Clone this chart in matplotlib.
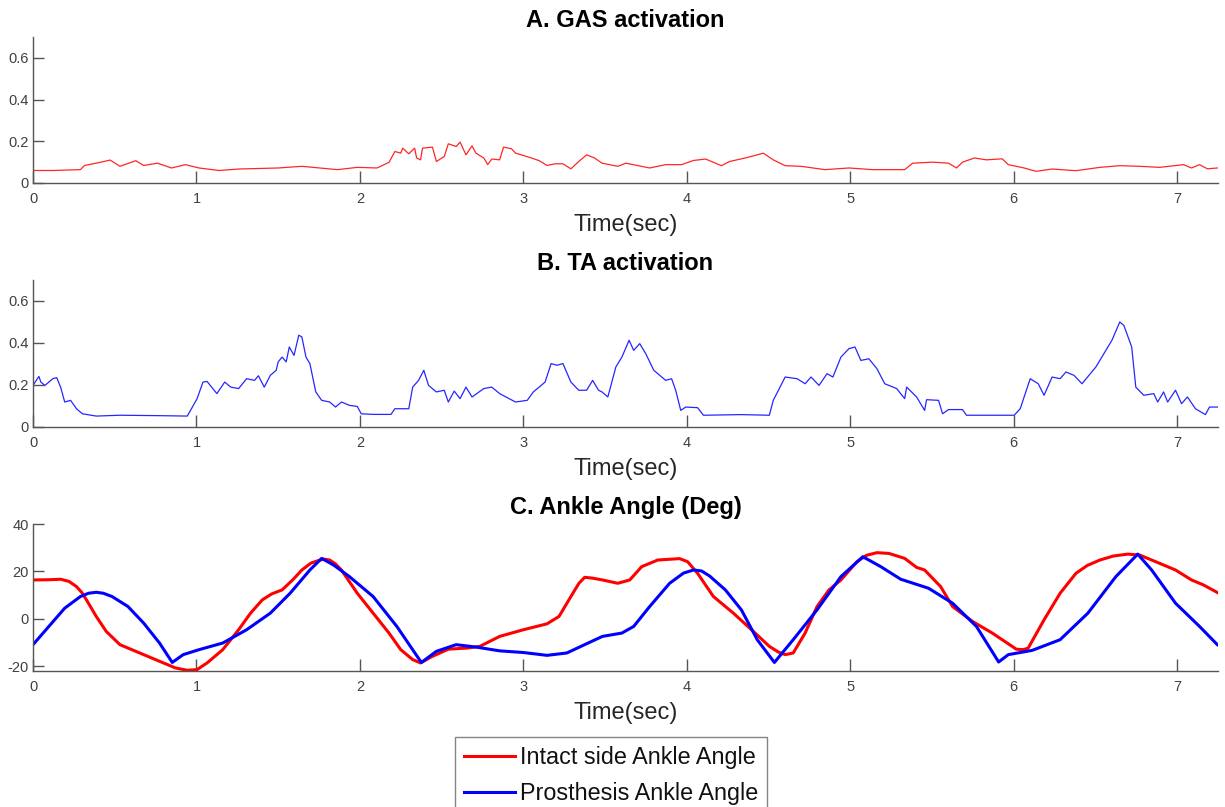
import matplotlib
matplotlib.use("Agg")
import matplotlib.pyplot as plt

plt.rcParams['font.family'] = ['Liberation Sans', 'DejaVu Sans']

# ---------------- data ----------------
gas_t = [0.000, 0.121, 0.290, 0.315, 0.387, 0.472, 0.532, 0.629, 0.677, 0.762, 0.847, 0.932,
         1.016, 1.137, 1.258, 1.500, 1.645, 1.863, 1.984, 2.105, 2.178, 2.214, 2.250, 2.262,
         2.299, 2.335, 2.347, 2.371, 2.383, 2.444, 2.468, 2.516, 2.541, 2.589, 2.613, 2.649,
         2.686, 2.710, 2.758, 2.782, 2.807, 2.855, 2.879, 2.928, 2.952, 3.000, 3.049, 3.097,
         3.145, 3.194, 3.242, 3.291, 3.339, 3.387, 3.436,
         3.481, 3.578, 3.627, 3.773, 3.871, 3.968, 4.041, 4.115, 4.212, 4.261, 4.358, 4.407,
         4.468, 4.529, 4.602, 4.699, 4.846, 4.992, 5.138, 5.333, 5.382, 5.504, 5.601, 5.650,
         5.687, 5.760, 5.833, 5.930, 5.967, 6.064, 6.137, 6.235, 6.381, 6.527, 6.649, 6.771,
         6.893, 7.039, 7.088, 7.137, 7.185, 7.246]
gas_v = [0.060, 0.060, 0.064, 0.084, 0.095, 0.110, 0.080, 0.107, 0.084, 0.095, 0.072, 0.088,
         0.072, 0.060, 0.067, 0.072, 0.080, 0.064, 0.075, 0.072, 0.099, 0.151, 0.143, 0.167,
         0.140, 0.167, 0.120, 0.111, 0.167, 0.172, 0.103, 0.127, 0.188, 0.175, 0.196, 0.135,
         0.178, 0.143, 0.120, 0.088, 0.115, 0.111, 0.172, 0.164, 0.143, 0.132, 0.120, 0.107,
         0.084, 0.092, 0.092, 0.068, 0.103, 0.135, 0.120,
         0.095, 0.080, 0.095, 0.072, 0.088, 0.088, 0.108, 0.115, 0.083, 0.103, 0.120, 0.130,
         0.143, 0.111, 0.083, 0.080, 0.064, 0.072, 0.064, 0.064, 0.095, 0.100, 0.095, 0.072,
         0.100, 0.120, 0.111, 0.116, 0.088, 0.072, 0.056, 0.067, 0.059, 0.075, 0.083, 0.080,
         0.075, 0.088, 0.072, 0.088, 0.068, 0.072]

ta_t = [0.000, 0.036, 0.048, 0.073, 0.121, 0.145, 0.169, 0.194, 0.230, 0.266, 0.302, 0.387,
        0.532, 0.774, 0.944, 1.004, 1.040, 1.065, 1.125, 1.173, 1.210, 1.258, 1.307, 1.355,
        1.379, 1.415, 1.452, 1.488, 1.500, 1.524, 1.549, 1.568, 1.597, 1.626, 1.645, 1.670,
        1.694, 1.730, 1.766, 1.815, 1.851, 1.887, 1.936, 1.984, 2.008, 2.081, 2.190, 2.214,
        2.299, 2.323, 2.359, 2.391, 2.420, 2.468, 2.516, 2.541, 2.577, 2.613, 2.649, 2.686,
        2.758, 2.807, 2.855, 2.952, 3.024, 3.061, 3.097, 3.133, 3.170, 3.206, 3.242, 3.291,
        3.339, 3.387, 3.424, 3.460,
        3.481, 3.517, 3.566, 3.603, 3.647, 3.675, 3.712, 3.749, 3.798, 3.834, 3.871, 3.907,
        3.932, 3.963, 3.993, 4.066, 4.102, 4.334, 4.505, 4.529, 4.602, 4.675, 4.724, 4.760,
        4.809, 4.858, 4.894, 4.943, 4.992, 5.029, 5.065, 5.114, 5.163, 5.211, 5.284, 5.333,
        5.345, 5.406, 5.455, 5.467, 5.540, 5.565, 5.601, 5.687, 5.711, 6.003, 6.040, 6.101,
        6.150, 6.186, 6.235, 6.284, 6.320, 6.369, 6.418, 6.503, 6.552, 6.601, 6.649, 6.674,
        6.722, 6.747, 6.796, 6.857, 6.881, 6.917, 6.942, 6.990, 7.027, 7.063, 7.112, 7.173,
        7.198, 7.246]
ta_v = [0.198, 0.241, 0.214, 0.198, 0.230, 0.235, 0.190, 0.119, 0.127, 0.087, 0.063, 0.052,
        0.056, 0.054, 0.052, 0.135, 0.214, 0.217, 0.159, 0.214, 0.190, 0.183, 0.230, 0.222,
        0.244, 0.190, 0.246, 0.270, 0.310, 0.333, 0.310, 0.381, 0.341, 0.437, 0.429, 0.333,
        0.302, 0.167, 0.127, 0.119, 0.095, 0.119, 0.103, 0.098, 0.063, 0.060, 0.060, 0.087,
        0.087, 0.190, 0.222, 0.270, 0.198, 0.167, 0.175, 0.119, 0.171, 0.135, 0.190, 0.143,
        0.183, 0.190, 0.159, 0.119, 0.127, 0.167, 0.190, 0.214, 0.302, 0.294, 0.302, 0.214,
        0.175, 0.175, 0.222, 0.175,
        0.167, 0.143, 0.286, 0.333, 0.413, 0.365, 0.397, 0.349, 0.270, 0.246, 0.222, 0.230,
        0.175, 0.079, 0.095, 0.092, 0.056, 0.059, 0.056, 0.127, 0.238, 0.230, 0.206, 0.238,
        0.198, 0.254, 0.238, 0.333, 0.373, 0.381, 0.317, 0.325, 0.278, 0.206, 0.183, 0.135,
        0.190, 0.143, 0.079, 0.130, 0.127, 0.063, 0.083, 0.083, 0.056, 0.056, 0.087, 0.230,
        0.206, 0.151, 0.238, 0.230, 0.262, 0.246, 0.206, 0.286, 0.349, 0.413, 0.500, 0.484,
        0.381, 0.190, 0.151, 0.159, 0.119, 0.167, 0.119, 0.175, 0.111, 0.143, 0.087, 0.059,
        0.095, 0.095]

intact_t = [0.000, 0.100, 0.169, 0.220, 0.266, 0.300, 0.327, 0.387, 0.448, 0.532, 0.653, 0.774,
            0.871, 0.944, 1.004, 1.065, 1.161, 1.258, 1.331, 1.403, 1.460, 1.524, 1.590, 1.645,
            1.700, 1.742, 1.780, 1.815, 1.850, 1.887, 1.984, 2.081, 2.178, 2.250, 2.323, 2.371,
            2.444, 2.541, 2.662, 2.734, 2.855, 3.000, 3.145, 3.218, 3.291, 3.340, 3.375, 3.420,
            3.484, 3.578, 3.651, 3.724, 3.822, 3.956, 4.005, 4.066, 4.163, 4.285, 4.407, 4.505,
            4.560, 4.602, 4.651, 4.724, 4.797, 4.870, 4.943, 5.041, 5.100, 5.163, 5.236, 5.333,
            5.406, 5.455, 5.553, 5.626, 5.748, 5.869, 6.016, 6.060, 6.089, 6.186, 6.284, 6.381,
            6.450, 6.527, 6.610, 6.698, 6.771, 6.893, 6.990, 7.088, 7.161, 7.246]
intact_v = [16.4, 16.5, 16.7, 15.8, 13.6, 11.0, 8.0, 1.0, -5.3, -10.9, -14.4, -17.9,
            -20.7, -21.7, -21.4, -18.6, -13.0, -4.6, 2.4, 8.0, 10.5, 12.2, 16.5, 20.6,
            23.5, 24.5, 25.2, 24.8, 23.2, 20.6, 10.8, 2.4, -6.0, -13.0, -17.2, -18.6,
            -15.8, -12.8, -12.3, -11.6, -7.4, -4.6, -2.1, 1.0, 9.4, 15.0, 17.5, 17.2,
            16.4, 15.0, 16.4, 22.0, 24.8, 25.4, 24.1, 19.2, 9.4, 2.4, -5.3, -11.6,
            -14.0, -15.1, -14.4, -6.0, 5.2, 12.2, 16.4, 24.1, 26.8, 27.9, 27.6, 25.5,
            21.7, 20.6, 13.6, 5.2, -1.1, -6.0, -12.8, -13.0, -12.3, -0.4, 10.8, 19.2,
            22.5, 24.8, 26.5, 27.3, 26.9, 23.4, 20.6, 16.4, 14.3, 11.1]

prosth_t = [0.000, 0.097, 0.194, 0.290, 0.340, 0.387, 0.430, 0.484, 0.581, 0.677, 0.774, 0.852,
            0.919, 1.016, 1.161, 1.307, 1.452, 1.573, 1.694, 1.766, 1.839, 1.936, 2.081, 2.226,
            2.376, 2.468, 2.589, 2.710, 2.855, 3.000, 3.145, 3.266, 3.387, 3.484, 3.603, 3.675,
            3.773, 3.895, 3.980, 4.041, 4.090, 4.139, 4.236, 4.334, 4.431, 4.536, 4.651, 4.797,
            4.943, 5.077, 5.187, 5.309, 5.479, 5.626, 5.772, 5.908, 5.967, 6.113, 6.284, 6.454,
            6.625, 6.759, 6.844, 6.990, 7.137, 7.246]
prosth_v = [-10.9, -3.2, 4.5, 9.4, 10.8, 11.2, 10.8, 9.4, 5.2, -1.8, -10.2, -18.4,
            -15.1, -13.0, -10.2, -4.6, 2.4, 10.8, 20.6, 25.5, 22.7, 17.8, 9.4, -3.2,
            -18.4, -13.7, -10.9, -11.9, -13.5, -14.2, -15.4, -14.4, -10.5, -7.4, -6.0, -3.2,
            5.2, 15.0, 19.3, 20.6, 20.2, 18.1, 12.2, 3.8, -8.8, -18.4, -8.8, 3.8,
            17.8, 26.2, 22.0, 16.7, 12.9, 6.6, -3.2, -18.2, -15.1, -13.3, -8.8, 2.4,
            17.8, 27.3, 20.6, 6.6, -3.2, -10.9]

x_ticks = [0, 1, 2, 3, 4, 5, 6, 7]
emg_yticks = [0, 0.2, 0.4, 0.6]
emg_yticklabels = ['0', '0.2', '0.4', '0.6']
ang_yticks = [-20, 0, 20, 40]
titles = ['A. GAS activation', 'B. TA activation', 'C. Ankle Angle (Deg)']
xlabel = 'Time(sec)'
legend_labels = ['Intact side Ankle Angle', 'Prosthesis Ankle Angle']

# ---------------- figure ----------------
W, H = 1225, 807
fig = plt.figure(figsize=(W / 100, H / 100), dpi=100)

left = 33 / W
width = (1218 - 33) / W
panels = [(37, 183), (280, 427), (524, 671)]
axes = []
for top, bot in panels:
    ax = fig.add_axes([left, 1 - bot / H, width, (bot - top) / H])
    axes.append(ax)

spine_c = '#555555'
label_c = '#404040'
for ax, title in zip(axes, titles):
    for s in ['top', 'right']:
        ax.spines[s].set_visible(False)
    for s in ['left', 'bottom']:
        ax.spines[s].set_color(spine_c)
        ax.spines[s].set_linewidth(1.0)
    ax.set_xlim(0, 7.25)
    ax.set_xticks(x_ticks)
    ax.set_xticklabels([str(v) for v in x_ticks])
    ax.tick_params(axis='x', direction='in', length=9, width=1.0, color=spine_c,
                   labelsize=10.5, labelcolor=label_c, pad=6.5)
    ax.tick_params(axis='y', direction='in', length=8, width=1.0, color=spine_c,
                   labelsize=10.5, labelcolor=label_c, pad=3)
    ax.set_title(title, fontsize=17, fontweight='bold', pad=7, color='black')
    ax.set_xlabel(xlabel, fontsize=17, color='#262626')
    ax.xaxis.set_label_coords(0.5, -0.21)

axA, axB, axC = axes
axA.plot(gas_t, gas_v, color=(1.0, 0.15, 0.15), lw=0.9)
axA.set_ylim(0, 0.7)
axA.set_yticks(emg_yticks)
axA.set_yticklabels(emg_yticklabels)

axB.plot(ta_t, ta_v, color=(0.15, 0.15, 1.0), lw=0.9)
axB.set_ylim(0, 0.7)
axB.set_yticks(emg_yticks)
axB.set_yticklabels(emg_yticklabels)

l1, = axC.plot(intact_t, intact_v, color='red', lw=2.2, solid_joinstyle='round')
l2, = axC.plot(prosth_t, prosth_v, color='blue', lw=2.2, solid_joinstyle='round')
axC.set_ylim(-22, 40)
axC.set_yticks(ang_yticks)
axC.set_yticklabels([str(v) for v in ang_yticks])

leg = fig.legend([l1, l2], legend_labels, loc='upper center',
                 bbox_to_anchor=(611 / W, 1 - 737 / H), fontsize=16.8,
                 frameon=True, fancybox=False, edgecolor='#666666',
                 handlelength=2.2, handletextpad=0.2, borderpad=0.4,
                 labelspacing=0.55, borderaxespad=0)
leg.get_frame().set_linewidth(1.0)
for txt in leg.get_texts():
    txt.set_color('#111111')

fig.savefig('out.png', dpi=100)
